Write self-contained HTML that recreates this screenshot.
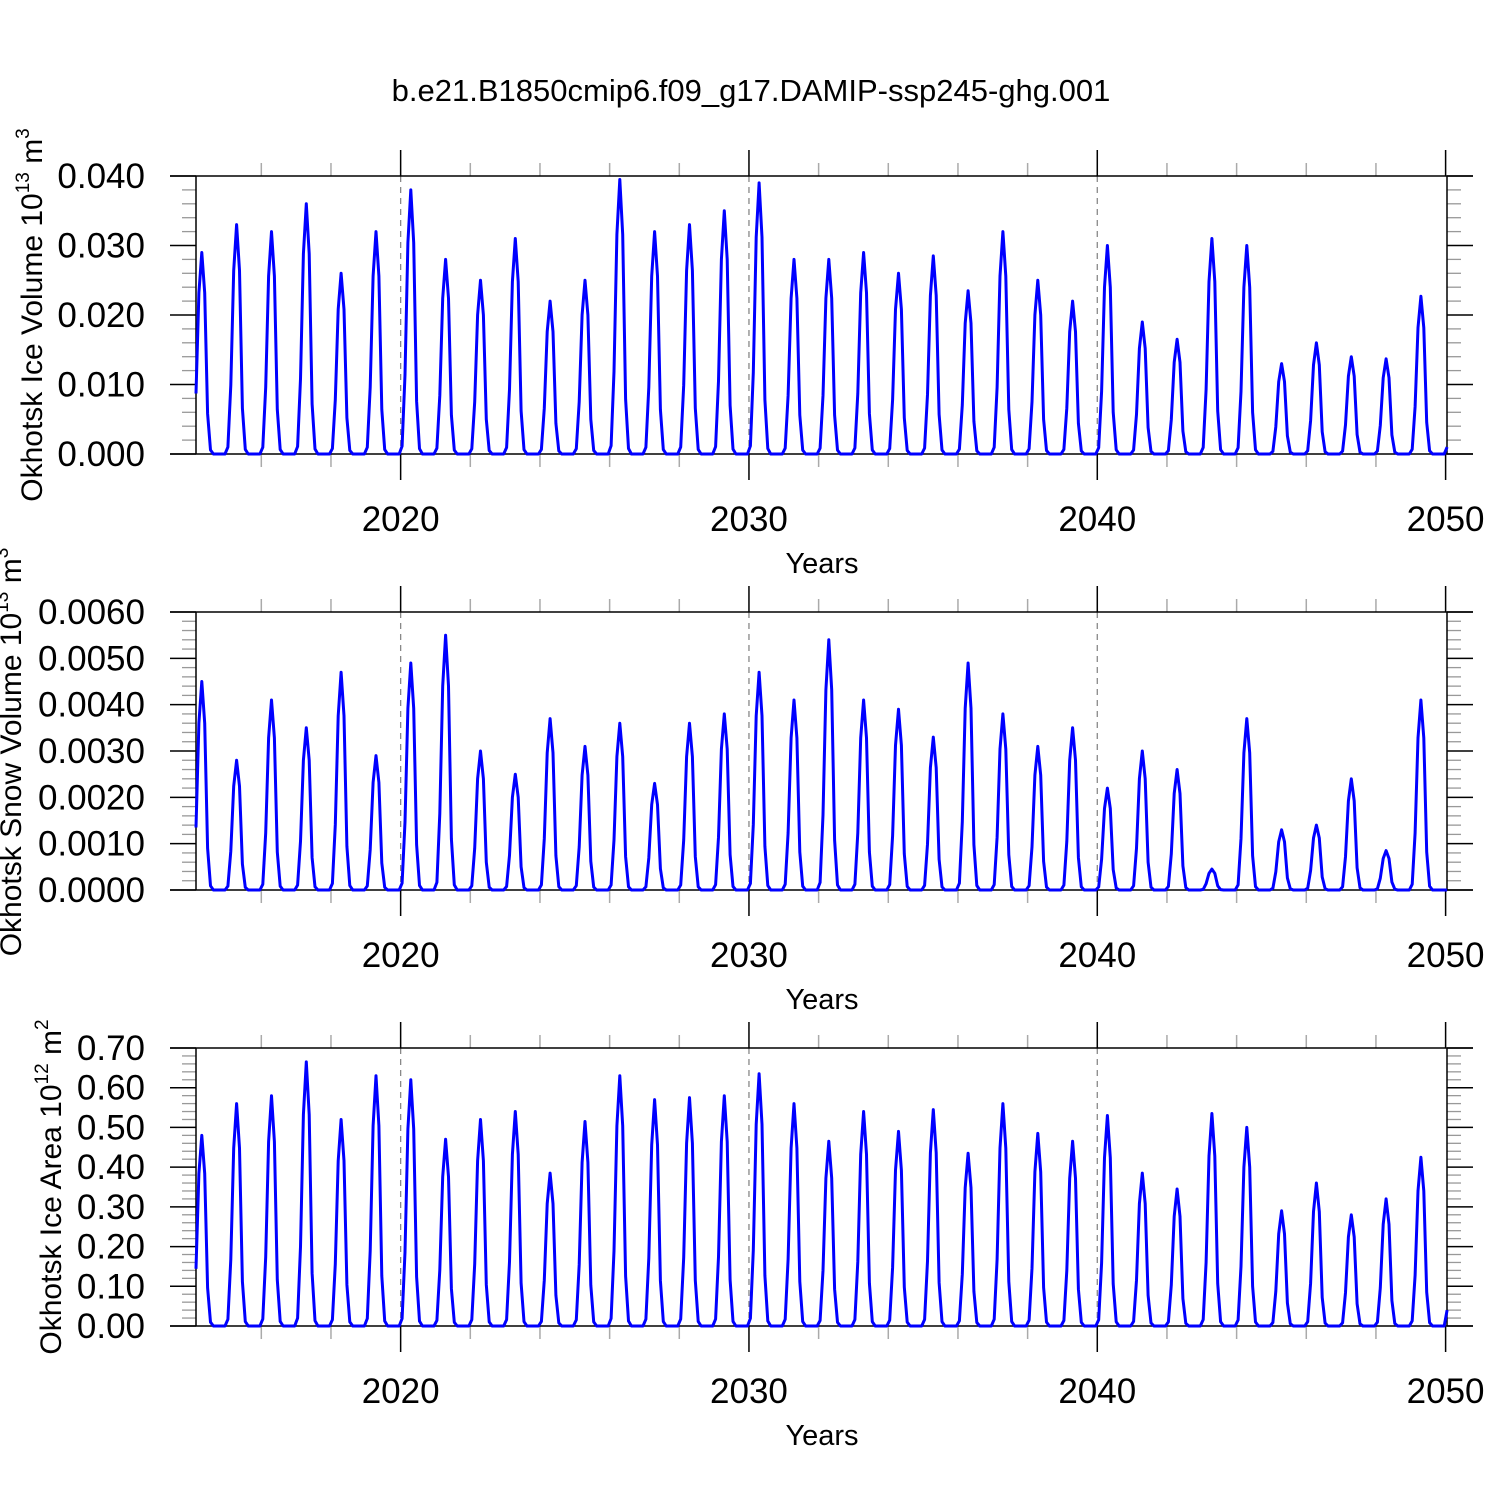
<!DOCTYPE html>
<html><head><meta charset="utf-8"><style>
body{margin:0;background:#fff}
svg{display:block;font-family:"Liberation Sans",sans-serif}
</style></head><body>
<svg id="chart" width="1500" height="1500" viewBox="0 0 1500 1500">
<rect width="1500" height="1500" fill="#fff"/>
<text x="751" y="101" font-size="31" text-anchor="middle">b.e21.B1850cmip6.f09_g17.DAMIP-ssp245-ghg.001</text>
</svg>
<script>
// Annual peak values, 2014..2049 (2050 = Jan value only)
const years = [2014,2015,2016,2017,2018,2019,2020,2021,2022,2023,2024,2025,2026,2027,2028,2029,2030,2031,2032,2033,2034,2035,2036,2037,2038,2039,2040,2041,2042,2043,2044,2045,2046,2047,2048,2049];
const icePeaks = [0.029,0.033,0.032,0.036,0.026,0.032,0.038,0.028,0.025,0.031,0.022,0.025,0.0395,0.032,0.033,0.035,0.039,0.028,0.028,0.029,0.026,0.0285,0.0235,0.032,0.025,0.022,0.030,0.019,0.0165,0.031,0.030,0.013,0.016,0.014,0.0137,0.0227];
const snowPeaks = [0.0045,0.0028,0.0041,0.0035,0.0047,0.0029,0.0049,0.0055,0.0030,0.0025,0.0037,0.0031,0.0036,0.0023,0.0036,0.0038,0.0047,0.0041,0.0054,0.0041,0.0039,0.0033,0.0049,0.0038,0.0031,0.0035,0.0022,0.0030,0.0026,0.00045,0.0037,0.0013,0.0014,0.0024,0.00085,0.0041];
const areaPeaks = [0.48,0.56,0.58,0.665,0.52,0.63,0.62,0.47,0.52,0.54,0.385,0.515,0.63,0.57,0.575,0.58,0.635,0.56,0.465,0.54,0.49,0.545,0.435,0.56,0.485,0.465,0.53,0.385,0.345,0.535,0.50,0.29,0.36,0.28,0.32,0.425];
const endValues = [0.001,0,0.04]; // Jan 2050
const season = [0.03,0.3,0.8,1,0.8,0.2,0.02,0,0,0,0,0]; // monthly fraction of annual peak
const xTickLabels = ["2020","2030","2040","2050"];
const iceTicks = ["0.000","0.010","0.020","0.030","0.040"];
const snowTicks = ["0.0000","0.0010","0.0020","0.0030","0.0040","0.0050","0.0060"];
const areaTicks = ["0.00","0.10","0.20","0.30","0.40","0.50","0.60","0.70"];

const NS="http://www.w3.org/2000/svg";
const svg=document.getElementById('chart');
const X0=196,X1=1447,T0=2014.125,T1=2050.04;
const xs=t=>X0+(t-T0)/(T1-T0)*(X1-X0);
function mk(tag,attrs,parent){const e=document.createElementNS(NS,tag);for(const k in attrs)e.setAttribute(k,attrs[k]);(parent||svg).appendChild(e);return e;}

const panels=[
 {name:'ice-volume',top:176,bot:454,ticks:iceTicks,max:0.04,minor:4,peaks:icePeaks,end:endValues[0],label:'Okhotsk Ice Volume 10',sup:'13',unit:' m',usup:'3',ly:315,lx:42},
 {name:'snow-volume',top:612,bot:890,ticks:snowTicks,max:0.006,minor:4,peaks:snowPeaks,end:endValues[1],label:'Okhotsk Snow Volume 10',sup:'13',unit:' m',usup:'3',ly:752,lx:21},
 {name:'ice-area',top:1048,bot:1326,ticks:areaTicks,max:0.7,minor:4,peaks:areaPeaks,end:endValues[2],label:'Okhotsk Ice Area 10',sup:'12',unit:' m',usup:'2',ly:1187,lx:61}
];
panels.forEach(p=>{
 const g=mk('g',{});
 
 
 const ys=v=>p.bot-(v/p.max)*(p.bot-p.top);
 [2020,2030,2040].forEach(y=>{const l=mk('line',{x1:xs(y),x2:xs(y),y1:p.top,y2:p.bot,stroke:'#888','stroke-width':1.3,'stroke-dasharray':'6,5'},g);
  });
 for(let y=2016;y<=2048;y+=2){ if(y%10==0) continue;
  mk('line',{x1:xs(y),x2:xs(y),y1:p.top-13,y2:p.top,stroke:'#aaa','stroke-width':1.5},g);
  mk('line',{x1:xs(y),x2:xs(y),y1:p.bot,y2:p.bot+13,stroke:'#aaa','stroke-width':1.5},g);}
 xTickLabels.forEach(s=>{const y=+s;
  mk('line',{x1:xs(y),x2:xs(y),y1:p.top-26,y2:p.top,stroke:'#000','stroke-width':1.5},g);
  mk('line',{x1:xs(y),x2:xs(y),y1:p.bot,y2:p.bot+26,stroke:'#000','stroke-width':1.5},g);
  const t=mk('text',{x:xs(y),y:p.bot+77,'font-size':35,'text-anchor':'middle'},g);t.textContent=s;
  });
 const n=p.ticks.length-1;
 p.ticks.forEach((s,i)=>{const v=p.max*i/n,y=ys(v);
  mk('line',{x1:170,x2:X0,y1:y,y2:y,stroke:'#000','stroke-width':1.5},g);
  mk('line',{x1:X1,x2:1473,y1:y,y2:y,stroke:'#000','stroke-width':1.5},g);
  const t=mk('text',{x:145,y:y+12,'font-size':35,'text-anchor':'end'},g);t.textContent=s;
  
  if(i<n){for(let m=1;m<=p.minor;m++){const yy=ys(v+p.max/n*m/(p.minor+1));
   mk('line',{x1:182,x2:X0,y1:yy,y2:yy,stroke:'#999','stroke-width':1.3},g);
   mk('line',{x1:X1,x2:1461,y1:yy,y2:yy,stroke:'#999','stroke-width':1.3},g);}}
 });
 mk('line',{x1:X0,x2:X0,y1:p.top,y2:p.bot,stroke:'#000','stroke-width':1.5},g);
 mk('line',{x1:X1,x2:X1,y1:p.top,y2:p.bot,stroke:'#000','stroke-width':1.5},g);
 mk('line',{x1:170,x2:1473,y1:p.top,y2:p.top,stroke:'#000','stroke-width':1.5},g);
 mk('line',{x1:170,x2:1473,y1:p.bot,y2:p.bot,stroke:'#000','stroke-width':1.5},g);
 const pts=[];
 years.forEach((yr,k)=>{for(let m=0;m<12;m++){ if(yr==2014&&m==0) continue;
  pts.push([xs(yr+(m+0.5)/12),ys(p.peaks[k]*season[m])]);}});
 pts.push([xs(2050+0.5/12),ys(p.end)]);
 const path=mk('polyline',{points:pts.map(q=>q[0].toFixed(1)+','+q[1].toFixed(1)).join(' '),fill:'none',stroke:'#0000ff','stroke-width':3,'stroke-linejoin':'round'},g);
 
 const xt=mk('text',{x:822,y:p.bot+119,'font-size':29,'text-anchor':'middle'},g);xt.textContent='Years';
 
 const yt=mk('text',{x:p.lx,y:p.ly,'font-size':30,'text-anchor':'middle',transform:`rotate(-90 ${p.lx} ${p.ly})`},g);
 
 yt.innerHTML=p.label+'<tspan dy="-13" font-size="19">'+p.sup+'</tspan><tspan dy="13">'+p.unit+'</tspan><tspan dy="-13" font-size="19">'+p.usup+'</tspan>';
});
</script>
</body></html>
